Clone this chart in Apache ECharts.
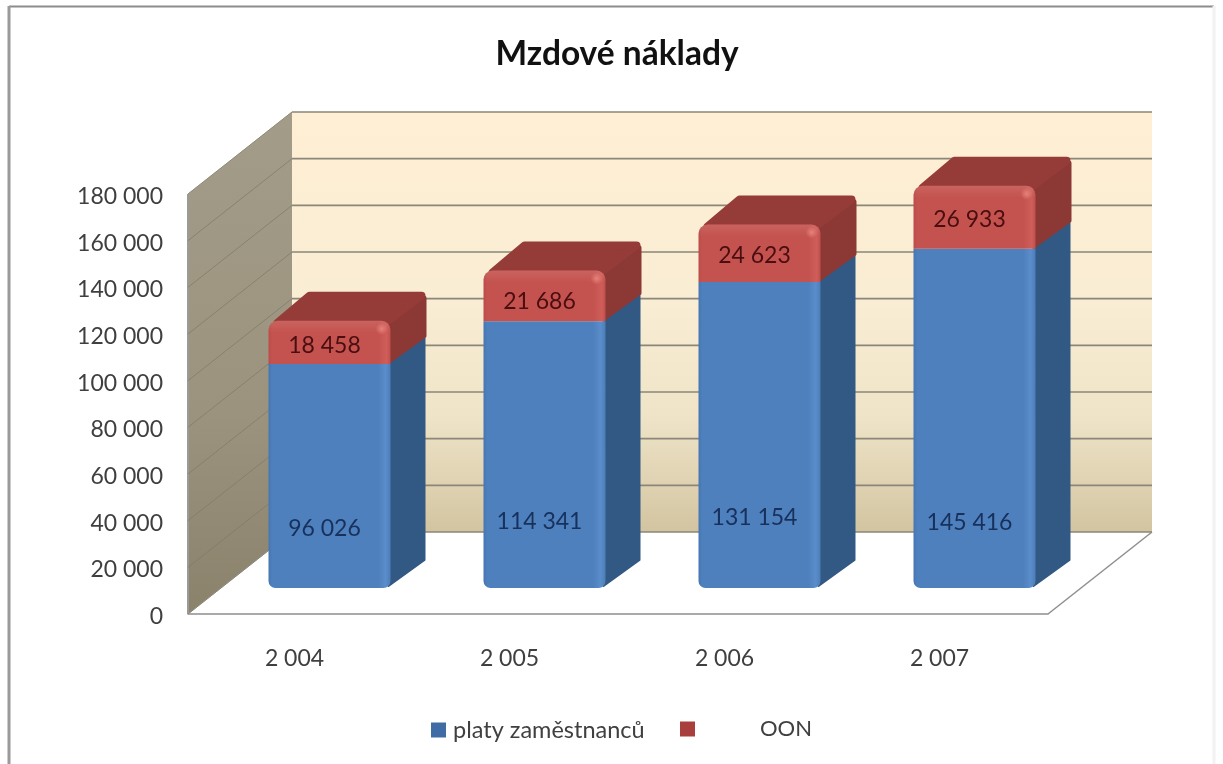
<!DOCTYPE html>
<html>
<head>
<meta charset="utf-8">
<style>html,body{margin:0;padding:0;background:#fff}#c{width:1223px;height:764px}</style>
<script src="https://cdn.jsdelivr.net/npm/echarts@6/dist/echarts.min.js"></script>
</head>
<body>
<div id="c"></div>
<script>
const chartTitle = 'Mzdové náklady';
const categories = ['2 004', '2 005', '2 006', '2 007'];
const salaryName = 'platy zaměstnanců';
const oonName = 'OON';
const salaries = [96026, 114341, 131154, 145416];
const oon = [18458, 21686, 24623, 26933];
const yTicks = [0, 20000, 40000, 60000, 80000, 100000, 120000, 140000, 160000, 180000];

// Pixel-level presentation settings (kept apart from the data)
const FONT = 'Lato, Carlito, sans-serif';
const WALL_DX = 104, WALL_DY = 82;      // depth of the whole plot box
const BASE_DX = 34, BASE_DY = 26;       // where bars stand on the floor
const BAR_DX = 36, BAR_DY = 29;         // depth of each bar
const BAR_RATIO = 122 / 215;
const salaryLabelShift = [53, 67, 83, 104];
const oonLabelShift = [3, 6, 2, 2];
const fmt = v => String(v).replace(/\B(?=(\d{3})+$)/g, ' ');

const linear = (x0, y0, x1, y1, stops) => new echarts.graphic.LinearGradient(x0, y0, x1, y1,
  stops.map(s => ({ offset: s[0], color: s[1] })));

function planes(params) {
  const r = params.coordSys;
  const L = r.x, R = r.x + r.width, T = r.y, B = r.y + r.height;
  return {
    type: 'group',
    children: [
      { type: 'polygon', shape: { points: [[L + WALL_DX, T - WALL_DY], [R + WALL_DX, T - WALL_DY], [R + WALL_DX, B - WALL_DY], [L + WALL_DX, B - WALL_DY]] },
        style: { fill: linear(0, 0, 0, 1, [[0, '#FFEFD4'], [0.45, '#F9EDD3'], [0.72, '#EFE4C8'], [0.88, '#E0D3B3'], [1, '#D2C4A0']]) } },
      { type: 'polygon', shape: { points: [[L, T], [L + WALL_DX, T - WALL_DY], [L + WALL_DX, B - WALL_DY], [L, B]] },
        style: { fill: linear(0, 0, 0, 1, [[0, '#A39C88'], [0.6, '#9B937E'], [1, '#8B826C']]) } },
      { type: 'line', shape: { x1: L, y1: T, x2: L + WALL_DX, y2: T - WALL_DY }, style: { stroke: '#B5B0A2', lineWidth: 1 } },
      { type: 'line', shape: { x1: L, y1: T, x2: L, y2: B }, style: { stroke: '#9A9A9A', lineWidth: 2 } },
      { type: 'line', shape: { x1: L, y1: B, x2: L + WALL_DX, y2: B - WALL_DY }, style: { stroke: '#A8A8A0', lineWidth: 1 } },
      { type: 'line', shape: { x1: R, y1: B, x2: R + WALL_DX, y2: B - WALL_DY }, style: { stroke: '#8E8E8E', lineWidth: 1.5 } }
    ]
  };
}

function gridLine(params, api) {
  const r = params.coordSys;
  const y = api.coord([0, api.value(1)])[1];
  const L = r.x, R = r.x + r.width;
  return {
    type: 'group',
    children: [
      { type: 'line', shape: { x1: L, y1: y, x2: L + WALL_DX, y2: y - WALL_DY }, style: { stroke: '#7F7969', lineWidth: 1, opacity: 0.75 } },
      { type: 'line', shape: { x1: L + WALL_DX, y1: y - WALL_DY, x2: R + WALL_DX, y2: y - WALL_DY }, style: { stroke: '#8A8679', lineWidth: 1.6 } }
    ]
  };
}

function barSegment(colors, shifts, isTop) {
  return function (params, api) {
    const i = params.dataIndex;
    const low = api.coord([api.value(0), api.value(1)]);
    const high = api.coord([api.value(0), api.value(2)]);
    const w = api.size([1, 0])[0] * BAR_RATIO;
    const x0 = low[0] + BASE_DX - w / 2, x1 = x0 + w;
    const yb = low[1] - BASE_DY, yt = high[1] - BASE_DY;
    const children = [];
    children.push({ type: 'polygon', shape: { points: [[x1 - 2, yb - 2], [x1 + BAR_DX - 2, yb - BAR_DY + 1], [x1 + BAR_DX - 2, yt - BAR_DY + (isTop ? 6 : 1)], [x1 - 1, yt]] },
      style: { fill: colors.side, stroke: colors.side, lineWidth: isTop ? 4 : 2, lineJoin: 'round' } });
    if (isTop) {
      children.push({ type: 'polygon', shape: { points: [[x0 + 9, yt + 2], [x0 + BAR_DX + 5, yt - BAR_DY + 4], [x1 + BAR_DX - 5, yt - BAR_DY + 4], [x1 - 5, yt + 2]] },
        style: { fill: colors.top, stroke: colors.top, lineWidth: 8, lineJoin: 'round' } });
    }
    children.push({ type: 'rect', shape: { x: x0, y: yt, width: w, height: yb - yt, r: isTop ? [9, 9, 0, 0] : [0, 0, 7, 7] },
      style: { fill: colors.front() } });
    if (isTop) {
      children.push({ type: 'rect', shape: { x: x0, y: yt, width: w, height: 12, r: [9, 9, 0, 0] },
        style: { fill: linear(0, 0, 0, 1, [[0, 'rgba(255,255,255,0.09)'], [1, 'rgba(255,255,255,0)']]) } });
      children.push({ type: 'circle', shape: { cx: x1 - 9, cy: yt + 8, r: 6 },
        style: { fill: new echarts.graphic.RadialGradient(0.5, 0.5, 0.5, [
          { offset: 0, color: 'rgba(255,160,150,0.55)' }, { offset: 1, color: 'rgba(255,160,150,0)' }]) } });
    }
    children.push({ type: 'text', style: {
      text: fmt(api.value(3)), x: (x0 + x1) / 2 - 5, y: (yb + yt) / 2 + shifts[i],
      align: 'center', verticalAlign: 'middle', font: '23px ' + FONT, fill: colors.label } });
    return { type: 'group', children };
  };
}

const blue = {
  side: '#325884', label: '#17305C',
  front: () => linear(0, 0, 1, 0, [[0, '#4676B2'], [0.03, '#4E80BD'], [0.9, '#4E80BD'], [0.96, '#5A8DCB'], [1, '#4C7DB8']])
};
const red = {
  side: '#8C3936', top: '#953B38', label: '#4A0D10',
  front: () => linear(0, 0, 1, 0, [[0, '#BB4C4A'], [0.03, '#C4534F'], [0.9, '#C4534F'], [0.97, '#CF5D59'], [1, '#BE4F4C']])
};

const salarySeriesData = categories.map((c, i) => [i, 0, salaries[i], salaries[i]]);
const oonSeriesData = categories.map((c, i) => [i, salaries[i], salaries[i] + oon[i], oon[i]]);

const chart = echarts.init(document.getElementById('c'), null, { renderer: 'canvas' });
chart.setOption({
  animation: false,
  backgroundColor: '#fff',
  title: { text: chartTitle, left: 612, top: 32, textAlign: 'center',
    textStyle: { fontFamily: FONT, fontSize: 33.5, fontWeight: 'bold', color: '#111' } },
  grid: { left: 188, right: 175, top: 194, bottom: 150 },
  xAxis: { type: 'category', data: categories, axisTick: { show: false },
    axisLine: { lineStyle: { color: '#8E8E8E', width: 1.5 } },
    axisLabel: { fontFamily: FONT, fontSize: 23, color: '#3F3F3F', margin: 33, padding: [0, 2, 0, 0] }, z: 5 },
  yAxis: { type: 'value', min: 0, max: 180000, interval: 20000,
    axisLine: { show: false }, axisTick: { show: false }, splitLine: { show: false },
    axisLabel: { fontFamily: FONT, fontSize: 23, color: '#3F3F3F', margin: 25, verticalAlign: 'top', lineHeight: 5, formatter: fmt } },
  legend: [
    { left: 431, top: 718, padding: 0, data: [salaryName], selectedMode: false, icon: 'rect', itemWidth: 15, itemHeight: 15, itemGap: 0,
      textStyle: { fontFamily: FONT, fontSize: 23.5, color: '#404040', padding: [0, 0, 0, 2] } },
    { left: 680, top: 718, padding: 0, data: [oonName], selectedMode: false, icon: 'rect', itemWidth: 15, itemHeight: 15, itemGap: 0,
      textStyle: { fontFamily: FONT, fontSize: 22, color: '#404040', padding: [0, 0, 0, 60] } }
  ],
  graphic: [
    { type: 'line', shape: { x1: 9, y1: 6.5, x2: 1214, y2: 6.5 }, style: { stroke: '#8C8C8C', lineWidth: 2 } },
    { type: 'line', shape: { x1: 9, y1: 6, x2: 9, y2: 764 }, style: { stroke: '#9A9A9A', lineWidth: 3 } },
    { type: 'line', shape: { x1: 1214, y1: 6, x2: 1214, y2: 764 }, style: { stroke: '#F2F2F2', lineWidth: 3 } }
  ],
  series: [
    { type: 'custom', name: 'walls', renderItem: planes, data: [[0, 0]], silent: true, z: 1 },
    { type: 'custom', name: 'grid', renderItem: gridLine, data: yTicks.slice().map(v => [0, v]), silent: true, z: 2 },
    { type: 'custom', name: salaryName, renderItem: barSegment(blue, salaryLabelShift, false),
      itemStyle: { color: '#3F6CA5' }, data: salarySeriesData, encode: { x: 0, y: 2 }, z: 3 },
    { type: 'custom', name: oonName, renderItem: barSegment(red, oonLabelShift, true),
      itemStyle: { color: '#A93F3D' }, data: oonSeriesData, encode: { x: 0, y: 2 }, z: 4 }
  ]
});
</script>
</body>
</html>
